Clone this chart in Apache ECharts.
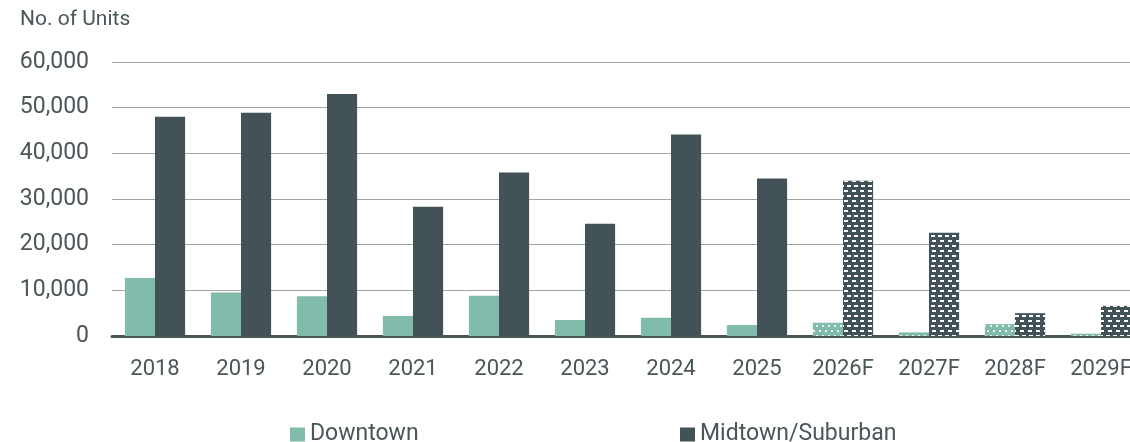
<!DOCTYPE html>
<html>
<head>
<meta charset="utf-8">
<script src="https://cdn.jsdelivr.net/npm/echarts@6/dist/echarts.min.js"></script>
<style>html,body{margin:0;padding:0;background:#fff;overflow:hidden;width:1130px;height:442px}#c{width:1170px;height:442px}</style>
</head>
<body>
<div id="c"></div>
<script>
const categories = ['2018','2019','2020','2021','2022','2023','2024','2025','2026F','2027F','2028F','2029F'];
const downtown = [12700, 9500, 8700, 4400, 8800, 3500, 4000, 2400, 2900, 800, 2600, 500];
const midtown = [48000, 48900, 53000, 28300, 35800, 24600, 44100, 34500, 34000, 22600, 5000, 6600];
const forecastFrom = 8;
const yTicks = [0, 10000, 20000, 30000, 40000, 50000, 60000];

const TEXT = '#4b5659';
const TEAL = '#80bbab';
const DARK = '#435257';
const FONT = 'Roboto, "Noto Sans", sans-serif';

const dotDecal = { symbol: 'rect', symbolSize: 1, color: 'rgba(255,255,255,0.85)', dashArrayX: [[2, 4], [0, 3, 2, 1]], dashArrayY: [2, 2.5] };
const brickDecal = { symbol: 'rect', symbolSize: 1, color: '#ffffff', dashArrayX: [[4, 3], [0, 3.5, 4, -0.5]], dashArrayY: [1.5, 2.5] };

function build(vals, decal) {
  return vals.map((v, i) => i >= forecastFrom ? { value: v, itemStyle: { decal: decal } } : v);
}

const legendText = { color: TEXT, fontSize: 23, fontFamily: FONT };
const chart = echarts.init(document.getElementById('c'), null, { renderer: 'canvas' });
chart.setOption({
  animation: false,
  textStyle: { fontFamily: FONT },
  grid: { left: 112, top: 62, width: 1032, height: 274, containLabel: false },
  graphic: [{ type: 'text', left: 20, top: 9, style: { text: 'No. of Units', fill: TEXT, font: '21px ' + FONT } }],
  legend: [
    { data: ['Downtown'], left: 290, top: 423, padding: 0, itemWidth: 15, itemHeight: 14, textStyle: legendText, icon: 'rect' },
    { data: ['Midtown/Suburban'], left: 680, top: 423, padding: 0, itemWidth: 15, itemHeight: 14, textStyle: legendText, icon: 'rect' }
  ],
  xAxis: {
    type: 'category', data: categories,
    axisLine: { lineStyle: { color: '#4a5558', width: 3 } },
    axisTick: { show: false },
    axisLabel: { color: TEXT, fontSize: 22, margin: 22, fontFamily: FONT }
  },
  yAxis: {
    type: 'value', min: yTicks[0], max: yTicks[yTicks.length - 1], interval: 10000,
    axisLine: { show: false }, axisTick: { show: false },
    splitLine: { lineStyle: { color: '#a3a3a3', width: 1 } },
    axisLabel: { color: TEXT, fontSize: 23, margin: 23, fontFamily: FONT, formatter: v => v.toLocaleString('en-US') }
  },
  series: [
    { name: 'Downtown', type: 'bar', data: build(downtown, dotDecal), barGap: '0%', barCategoryGap: '30%', itemStyle: { color: TEAL } },
    { name: 'Midtown/Suburban', type: 'bar', data: build(midtown, brickDecal), barGap: '0%', barCategoryGap: '30%', itemStyle: { color: DARK } }
  ]
});
</script>
</body>
</html>
